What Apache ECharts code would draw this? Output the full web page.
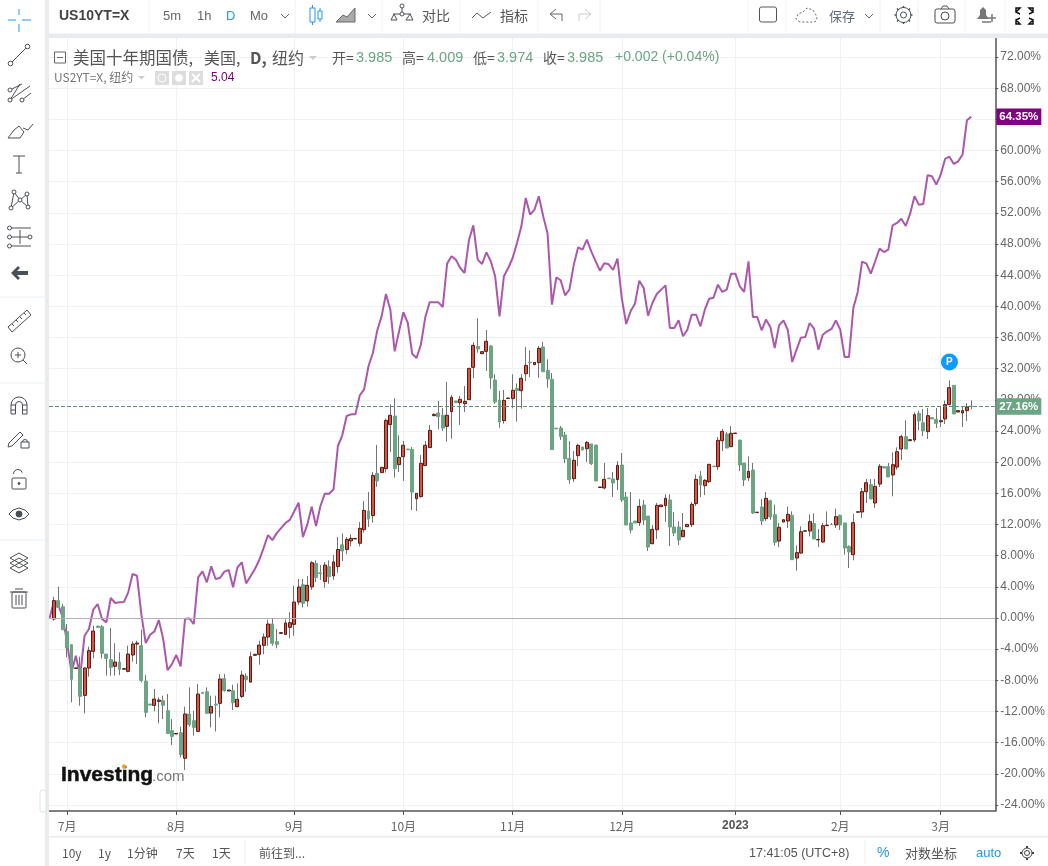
<!DOCTYPE html>
<html>
<head>
<meta charset="utf-8">
<title>US10YT=X</title>
<style>
html,body{margin:0;padding:0;background:#fff;}
#main{width:1048px;height:866px;}
</style>
<script src="https://cdn.jsdelivr.net/npm/echarts@6/dist/echarts.min.js"></script>
</head>
<body>
<div id="main"></div>
<script>
// 美国十年期国债 K线, 涨跌幅 %, 每根一个交易日
var openVals = [
  -0.13,2.23,1.45,-1.75,-3.42,-6.48,-6.42,-9.93,-6.42,-4.28,
  -1.03,-1.11,-4.62,-5.35,-6.20,-5.65,-6.57,-6.85,-4.75,-3.34,
  -3.55,-8.09,-11.04,-11.21,-10.70,-10.61,-11.90,-14.46,-14.89,-14.72,
  -18.01,-12.32,-13.18,-14.55,-9.54,-9.46,-12.20,-11.04,-10.95,-7.79,
  -9.37,-9.33,-11.38,-10.06,-7.45,-8.22,-4.79,-4.66,-3.51,-2.44,
  -0.77,-3.04,-1.97,-2.10,-1.20,-0.81,2.05,4.28,2.2,4.0,
  7.0,5.8,4.7,6.6,5.4,6.6,9.4,8.8,9.9,10.15,
  9.6,11.34,13.74,13.14,18.57,18.66,19.17,24.82,25.93,19.68,
  20.71,21.69,21.65,15.32,15.58,19.56,21.87,25.97,26.32,26.02,
  24.60,26.49,27.86,27.64,27.51,28.03,32.18,34.87,33.93,34.23,
  34.92,30.55,27.98,25.33,28.18,28.16,29.48,29.18,31.36,32.84,
  32.52,32.78,34.79,31.79,30.64,24.37,24.39,23.49,20.50,17.89,
  20.84,21.95,21.74,22.34,22.21,16.75,16.69,17.95,17.84,17.76,
  19.64,15.53,12.20,12.45,12.24,14.51,13.09,9.54,11.34,14.29,
  14.42,15.15,11.68,11.68,10.44,11.72,11.98,14.68,18.23,16.99,
  17.50,19.50,19.43,22.76,23.62,21.99,23.68,22.85,19.90,18.01,
  19.00,13.53,14.25,12.75,15.06,13.26,9.88,12.32,12.45,13.18,
  7.70,8.34,11.14,11.17,12.15,10.03,9.76,11.85,12.02,11.94,
  13.18,12.20,9.20,8.13,13.58,13.61,16.22,17.12,14.76,17.20,
  19.43,19.43,18.36,19.38,21.69,23.28,22.76,22.85,26.27,25.07,
  23.92,25.72,25.50,25.20,25.55,27.39,29.87,26.44,26.32,26.62,27.20
];
var closeVals = [
  2.23,1.37,-1.50,-3.85,-7.87,-6.40,-10.06,-6.42,-4.19,-1.67,
  -1.20,-4.54,-5.18,-6.33,-5.65,-6.59,-6.50,-4.62,-3.34,-3.21,
  -8.04,-12.11,-11.17,-10.40,-10.53,-11.21,-14.81,-15.19,-14.81,-17.54,
  -12.32,-13.69,-14.04,-9.76,-9.67,-12.24,-11.34,-11.17,-7.83,-9.33,
  -9.24,-10.87,-10.44,-7.32,-7.92,-4.96,-4.66,-3.47,-2.44,-0.77,
  -3.25,-3.38,-1.88,-0.64,-0.60,2.05,3.98,1.88,4.2,7.1,
  5.2,5.7,6.8,5.3,7.2,8.8,8.6,10.10,10.23,10.22,
  11.51,13.82,12.71,18.31,17.59,19.34,25.37,26.02,19.17,20.62,
  22.17,21.60,16.17,16.00,19.85,22.17,24.09,26.14,25.85,24.39,
  26.02,28.33,27.64,28.07,27.81,32.05,35.00,34.53,34.19,35.52,
  30.81,27.73,25.16,27.94,28.24,29.23,29.18,30.77,32.43,32.75,
  32.82,34.62,31.62,30.68,21.61,24.28,23.28,20.45,17.76,20.24,
  22.16,21.57,22.55,19.81,17.59,16.82,17.80,17.88,17.33,19.60,
  15.15,11.94,11.30,12.20,14.33,12.58,9.11,11.38,14.46,14.51,
  15.36,11.68,10.91,10.01,11.25,12.02,14.59,17.80,17.07,17.67,
  19.73,19.43,22.81,23.96,21.82,23.71,23.74,19.64,17.72,18.83,
  13.48,13.59,12.45,15.36,12.97,9.71,11.64,12.62,13.31,7.49,
  8.39,11.08,11.20,12.37,10.14,10.09,11.85,11.92,11.98,13.01,
  11.94,8.99,8.47,12.24,13.64,16.22,17.37,15.28,16.90,19.47,
  19.26,18.10,19.68,21.35,23.28,21.69,22.89,26.10,25.29,24.01,
  25.97,25.55,24.99,25.33,27.39,29.57,26.19,26.62,26.62,27.09,27.16
];
var lowVals = [
  -0.34,1.37,-1.50,-5.05,-10.83,-6.48,-11.25,-12.24,-7.53,-5.18,
  -1.20,-5.18,-7.40,-7.40,-7.40,-7.32,-6.57,-6.97,-5.61,-5.91,
  -8.26,-12.75,-11.17,-11.98,-13.52,-12.97,-14.89,-16.30,-14.89,-17.89,
  -19.51,-13.95,-15.10,-14.55,-9.67,-12.32,-14.04,-14.55,-12.75,-9.46,
  -9.37,-11.81,-11.47,-10.27,-9.46,-8.26,-4.79,-5.99,-4.66,-3.55,
  -3.55,-3.89,-1.97,-2.14,-2.61,-2.27,1.67,1.37,1.5,3.6,
  4.6,4.9,3.9,4.4,4.9,5.8,7.3,8.2,9.2,10.15,
  9.2,10.95,11.68,12.24,16.82,18.66,18.66,21.31,18.01,18.74,
  17.59,21.60,13.86,13.74,15.45,19.56,21.87,25.97,24.22,24.01,
  22.64,23.02,27.64,24.78,26.44,28.03,30.81,34.06,33.93,31.71,
  29.44,27.47,24.43,24.95,28.18,26.92,25.20,26.87,30.42,30.94,
  32.52,30.85,31.62,29.57,21.61,24.28,22.85,19.90,17.24,17.46,
  19.51,21.57,20.03,19.64,17.59,16.75,16.52,17.88,15.53,16.43,
  14.89,11.94,10.87,12.20,11.81,11.94,8.60,9.46,10.14,14.29,
  12.32,9.24,10.53,9.37,10.40,11.72,11.68,14.38,15.53,15.79,
  17.33,19.43,19.00,21.44,21.82,21.99,23.68,18.87,16.94,17.59,
  13.35,13.53,11.94,12.45,12.62,9.29,9.11,12.32,11.55,7.49,
  6.08,8.26,11.14,10.48,10.14,9.11,9.67,11.85,11.98,11.55,
  11.30,8.13,6.42,7.40,13.58,12.84,14.76,15.28,14.12,16.82,
  19.26,18.10,15.62,19.04,20.28,21.69,22.76,22.59,24.09,23.36,
  22.98,25.55,24.39,24.52,24.90,27.30,26.19,26.44,24.52,25.29,26.78
];
var highVals = [
  2.74,4.02,1.80,-0.77,-3.42,-6.40,-4.96,-6.33,-3.68,-0.98,
  -1.03,-0.90,-4.62,-1.28,-3.25,-4.41,-6.50,-3.55,-3.00,-2.91,
  -1.50,-7.32,-11.04,-9.11,-10.18,-9.97,-9.76,-12.97,-14.81,-13.95,
  -11.38,-8.90,-11.90,-8.47,-9.54,-8.90,-9.97,-9.97,-7.19,-7.19,
  -9.24,-8.56,-8.39,-6.76,-7.10,-4.32,-4.66,-2.91,-1.97,-0.21,
  -0.04,-1.41,-1.88,-0.17,0.73,4.15,5.01,5.01,5.4,7.3,
  7.4,6.8,7.2,7.4,8.1,10.4,10.87,10.40,10.74,10.22,
  12.32,15.02,16.17,18.74,22.21,19.34,25.59,27.43,28.20,23.45,
  22.72,21.69,21.95,16.00,20.92,22.72,24.78,26.27,27.86,26.96,
  30.30,28.63,27.86,28.50,29.78,32.05,35.39,38.47,34.19,36.97,
  35.04,31.28,29.14,29.27,28.24,31.28,30.12,31.28,34.79,34.36,
  32.82,34.92,35.43,33.21,31.45,24.37,24.65,23.88,22.72,21.44,
  22.38,21.95,22.72,22.34,22.21,16.82,19.90,17.95,18.74,20.15,
  21.18,16.17,16.17,12.45,15.28,15.15,13.09,11.94,14.76,14.51,
  15.88,15.88,13.61,12.41,13.48,12.02,14.89,18.44,18.87,17.84,
  19.73,19.50,23.24,24.26,23.88,24.65,23.74,22.85,19.90,20.75,
  19.90,13.59,15.28,16.17,15.19,14.55,12.20,12.62,14.33,13.69,
  9.33,11.77,11.20,13.31,13.44,11.42,12.20,13.69,12.20,14.04,
  13.26,12.20,9.33,13.39,13.64,16.69,17.84,17.84,17.84,19.77,
  19.43,19.90,21.27,21.91,23.53,25.37,22.89,26.40,26.62,26.83,
  26.96,25.72,26.96,27.17,27.90,30.51,29.87,26.62,27.17,27.56,27.94
];
// US2YT=X 对比线, 第一个点在第一根K线之前
var compareVals = [
  0,2.14,1.67,0.09,-3.12,-6.97,-4.84,-7.40,-2.27,-1.41,1.07,
  1.80,-0.13,-0.56,2.57,1.93,2.01,2.05,3.29,5.65,5.43,
  0.51,-3.21,-2.14,-1.71,-0.26,-2.70,-6.68,-5.91,-4.75,-6.20,
  -0.13,-0.04,-0.77,5.22,5.99,4.58,6.63,5.01,5.13,5.95,
  6.16,3.94,6.50,7.15,4.45,5.35,6.29,7.45,9.0,10.65,
  10.0,10.9,11.55,12.2,12.6,13.7,14.8,10.40,12.02,14.29,
  11.81,14.38,15.96,15.96,16.52,22.08,23.45,25.93,26.14,26.14,
  28.58,29.35,32.31,34.02,36.89,38.72,41.59,39.58,34.23,36.80,
  39.24,37.87,33.93,33.38,35.09,38.60,40.52,40.52,40.52,39.92,
  45.49,46.43,46.00,44.93,44.29,48.48,50.41,46.00,45.44,46.94,
  45.79,43.86,38.72,43.86,44.93,46.21,48.14,50.28,53.92,51.78,
  52.42,54.13,51.56,49.34,40.22,43.73,43.35,41.42,42.15,45.36,
  47.58,47.28,48.57,47.07,45.79,44.59,45.53,45.40,44.67,46.13,
  40.99,37.74,39.37,40.35,43.30,42.36,38.81,40.44,41.59,42.15,
  42.70,37.23,37.23,38.21,36.16,37.01,38.94,38.94,37.44,39.58,
  40.99,41.12,42.79,41.85,42.15,44.20,44.20,42.58,41.85,45.79,
  38.64,38.64,36.93,38.30,37.36,34.66,37.57,38.21,36.97,32.86,
  34.45,35.99,36.07,37.87,37.14,34.45,36.37,36.80,37.10,38.21,
  37.01,33.50,33.50,39.79,41.85,45.74,45.49,44.20,45.79,47.41,
  46.98,47.28,50.41,50.71,51.26,50.32,51.90,54.13,53.06,53.14,
  56.83,56.70,55.63,56.91,58.92,59.22,58.28,58.62,59.48,63.88,64.35
];
var monthTicks = [3,28,55,80,105,130,156,180,203];
var monthLabels = ['7月','8月','9月','10月','11月','12月','2023','2月','3月'];
var yTicks = [-24,-20,-16,-12,-8,-4,0,4,8,12,16,20,24,28,32,36,40,44,48,52,56,60,64,68,72];
var lastClose = 27.16;
var lastCompare = 64.35;
var pMarkIndex = 205, pMarkValue = 32.86;

var latin = '"Liberation Sans","Noto Sans CJK SC",sans-serif';
var cjk = '"Noto Sans CJK SC","Liberation Sans",sans-serif';
var ink = '#4a4f57', gray = '#555', blue = '#2196f3', upGreen = '#6ba583';

function txt(x, y, s, o) {
	o = o || {};
	return {type:'text', x:x, y:y, silent:true, z:20, style:{
		text:s, fill:o.c || gray, fontSize:o.s || 13, fontWeight:o.w || 'normal',
		fontFamily:o.f || latin, align:o.a || 'left', verticalAlign:'middle',
		stroke:o.stroke || 'none', lineWidth:o.stroke ? 0.5 : 0}};
}
function ln(pts, c, w) {
	return {type:'polyline', silent:true, z:20, shape:{points:pts}, style:{stroke:c || ink, fill:'none', lineWidth:w || 1}};
}
function circ(x, y, r, c, fill) {
	return {type:'circle', silent:true, z:20, shape:{cx:x, cy:y, r:r}, style:{stroke:c || ink, fill:fill || '#fff', lineWidth:1}};
}
function box(x, y, w, h, fill, stroke, r, z) {
	return {type:'rect', silent:true, z:z || 20, shape:{x:x, y:y, width:w, height:h, r:r || 0}, style:{fill:fill || 'none', stroke:stroke || 'none', lineWidth:1}};
}

function chromeItems() {
	var g = [];
	// 灰色分隔带
	g.push(box(45, 0, 4, 866, '#e9ecef', null, 0, 5));
	g.push(box(45, 33.5, 1003, 4.5, '#e9ecef', null, 0, 5));
	g.push(box(49, 836, 999, 1.5, '#e9ecef', null, 0, 5));
	[149,295,382,460,538,600,748,786,880,918,965,1005].forEach(function(x){
		g.push(ln([[x,0],[x,33]], '#f1f2f4'));
	});
	[297,383,540].forEach(function(y){ g.push(ln([[0,y],[45,y]], '#eceef0')); });

	// 顶部工具条
	g.push(txt(59, 16, 'US10YT=X', {w:'bold', s:14, c:'#444'}));
	g.push(txt(163, 16, '5m', {s:13, c:'#666'}));
	g.push(txt(197, 16, '1h', {s:13, c:'#666'}));
	g.push(txt(226, 16, 'D', {s:13, c:blue}));
	g.push(txt(250, 16, 'Mo', {s:13, c:'#666'}));
	[285,372,869].forEach(function(x){ g.push(ln([[x-4,14],[x,18],[x+4,14]], '#666')); });
	g.push(box(310, 8, 5, 14, null, blue)); g.push(ln([[312.5,5],[312.5,8]], blue)); g.push(ln([[312.5,22],[312.5,25]], blue));
	g.push(box(318, 11, 4, 8, null, blue)); g.push(ln([[320,8],[320,11]], blue)); g.push(ln([[320,19],[320,22]], blue));
	g.push({type:'polygon', silent:true, z:20, shape:{points:[[336,22],[343,15],[347,17],[355,8],[355,22]]}, style:{fill:'#aaa', stroke:'#666', lineWidth:1}});
	g.push(ln([[402,7],[402,14]])); g.push(ln([[393,14],[411,14]])); g.push(circ(402,6,2)); g.push(circ(402,14,2));
	g.push(ln([[391,20],[394,14],[397,20],[391,20]])); g.push(ln([[406,20],[410,14],[413,20],[406,20]]));
	g.push(txt(422, 16, '对比', {f:cjk, s:14, c:'#555'}));
	g.push(ln([[472,18],[477,13],[483,18],[491,12]], '#555'));
	g.push(txt(500, 16, '指标', {f:cjk, s:14, c:'#555'}));
	g.push(ln([[550,14],[556,9]], '#666')); g.push(ln([[550,14],[556,19]], '#666')); g.push(ln([[550,14],[562,14],[562,21]], '#666'));
	g.push(ln([[591,14],[585,9]], '#ccc')); g.push(ln([[591,14],[585,19]], '#ccc')); g.push(ln([[591,14],[579,14],[579,21]], '#ccc'));
	g.push(box(759.5, 7, 17, 15, null, '#555', 2));
	g.push({type:'polyline', silent:true, z:20, shape:{points:[[800,22],[796,19],[798,14],[803,12],[807,8],[813,10],[816,15],[817,19],[815,22],[800,22]]}, style:{stroke:'#666', fill:'none', lineDash:[2,2], lineWidth:1}});
	g.push(txt(829, 16, '保存', {f:cjk, s:13, c:'#5a6a7a'}));
	// 设置 / 相机 / 提醒 / 全屏
	g.push(circ(903.5,15,3)); g.push(circ(903.5,15,7.5,ink,'none'));
	[[903.5,6,903.5,8],[903.5,22,903.5,24],[894.5,15,896.5,15],[910.5,15,912.5,15],[897,8.5,898.5,10],[908.5,20,910,21.5],[910,8.5,908.5,10],[898.5,20,897,21.5]].forEach(function(a){
		g.push(ln([[a[0],a[1]],[a[2],a[3]]], ink, 1.5));
	});
	g.push(box(935, 9, 20, 14, null, ink, 2)); g.push(circ(945,16,4));
	g.push(ln([[941,9],[943,6],[947,6],[949,9]]));
	g.push({type:'polygon', silent:true, z:20, shape:{points:[[977,19],[980,15],[980,10],[983,7],[986,10],[986,15],[989,19]]}, style:{fill:'#777'}});
	g.push(ln([[982,22],[991,22]], '#777', 1.5)); g.push(ln([[992,14],[992,22]], '#777', 1.5)); g.push(ln([[988,18],[996,18]], '#777', 1.5));
	[[1016,8,1],[1033,8,-1]].forEach(function(a){
		g.push(ln([[a[0],a[1]+4],[a[0],a[1]],[a[0]+4*a[2],a[1]],[a[0],a[1]+4],[a[0]+4*a[2],a[1]+6]], '#111', 1.5));
		g.push(ln([[a[0],20],[a[0],24],[a[0]+4*a[2],24],[a[0],20],[a[0]+4*a[2],18]], '#111', 1.5));
	});

	// 左侧工具栏
	g.push(ln([[8,20],[16,20]], blue)); g.push(ln([[22,20],[31,20]], blue));
	g.push(ln([[19,9],[19,15]], blue)); g.push(ln([[19,24],[19,32]], blue));
	g.push(ln([[12,62],[26,48]])); g.push(circ(10.5,63.5,2.3)); g.push(circ(27.5,46.5,2.3));
	g.push(ln([[12,89],[22,84]])); g.push(ln([[10,100],[20,84]])); g.push(ln([[10,100],[30,86]])); g.push(ln([[22,100],[31,93]]));
	g.push(circ(10,90,2)); g.push(circ(10,100,2)); g.push(circ(22,100,2));
	g.push(ln([[8,138],[14,130],[19,126],[24,132],[20,138],[8,138]])); g.push(ln([[23,128],[28,130],[33,124]]));
	g.push(ln([[13,156],[25,156]])); g.push(ln([[19,156],[19,173]])); g.push(ln([[16,173],[22,173]]));
	g.push(ln([[11,208],[14,192],[20,200],[27,194],[28,207],[20,200],[11,208]]));
	[[14,192],[11,208],[20,200],[27,194],[28,207]].forEach(function(p){ g.push(circ(p[0],p[1],2)); });
	[228,237,246].forEach(function(y){ g.push(ln([[11,y],[31,y]])); g.push(circ(9.5,y,2)); });
	g.push(circ(30,237,2)); g.push(ln([[20,230],[20,244]]));
	g.push({type:'polygon', silent:true, z:20, shape:{points:[[11,273],[18,266],[20,268],[17,271],[28,271],[28,275],[17,275],[20,278],[18,280]]}, style:{fill:ink}});
	g.push({type:'polygon', silent:true, z:20, shape:{points:[[8,327],[27,310],[31,315],[12,332]]}, style:{fill:'none', stroke:ink, lineWidth:1}});
	[[12,324],[16,320],[20,317],[24,313]].forEach(function(p){ g.push(ln([[p[0],p[1]],[p[0]+2,p[1]+2]])); });
	g.push(circ(18,355,7)); g.push(ln([[15,355],[21,355]])); g.push(ln([[18,352],[18,358]])); g.push(ln([[23,360],[27,364]]));
	g.push({type:'arc', silent:true, z:20, shape:{cx:19, cy:405, r:8, startAngle:Math.PI, endAngle:0}, style:{stroke:ink, fill:'none'}});
	g.push({type:'arc', silent:true, z:20, shape:{cx:19, cy:405, r:3.5, startAngle:Math.PI, endAngle:0}, style:{stroke:ink, fill:'none'}});
	g.push(box(11, 405, 4.5, 9, null, ink)); g.push(box(22.5, 405, 4.5, 9, null, ink)); g.push(ln([[11,410],[15.5,410]])); g.push(ln([[22.5,410],[27,410]]));
	g.push({type:'polygon', silent:true, z:20, shape:{points:[[9,443],[20,432],[23,435],[12,446],[8,447]]}, style:{fill:'none', stroke:ink}});
	g.push(box(21, 442, 8, 6, null, ink));
	g.push({type:'arc', silent:true, z:20, shape:{cx:25, cy:442, r:2.5, startAngle:Math.PI, endAngle:0}, style:{stroke:ink, fill:'none'}});
	g.push(box(12, 478, 14, 11, null, ink, 1));
	g.push({type:'arc', silent:true, z:20, shape:{cx:18, cy:474, r:4.5, startAngle:Math.PI, endAngle:-0.3}, style:{stroke:ink, fill:'none'}});
	g.push(circ(19,483.5,1,ink,ink));
	g.push(ln([[9,514],[13,510],[19,508],[25,510],[29,514],[25,518],[19,520],[13,518],[9,514]]));
	g.push(circ(19,514,3,ink,ink));
	[558,563,568].forEach(function(y){
		g.push(ln([[10,y],[19,y-5],[28,y],[19,y+5],[10,y]]));
	});
	g.push(box(12, 592, 14, 16, null, ink, 1)); g.push(ln([[10,592],[28,592]])); g.push(ln([[15,589],[23,589]]));
	[16,19,22].forEach(function(x){ g.push(ln([[x,595],[x,605]])); });
	g.push(box(40, 790, 6, 22, '#fff', '#dfe2e5', 2, 21)); g.push(ln([[44,798],[42,801],[44,804]], '#999'));

	// 图例
	g.push(box(54.5, 52, 11, 11, null, '#666'));
	g.push(ln([[57,57.5],[63,57.5]], '#666'));
	g.push(txt(73, 57.5, '美国十年期国债,', {f:cjk, s:16.5, c:'#555'}));
	g.push(txt(204, 57.5, '美国,', {f:cjk, s:16, c:'#555'}));
	g.push(txt(250, 57.5, 'D,', {f:cjk, s:16, c:'#555', w:'bold'}));
	g.push(txt(272, 57.5, '纽约', {f:cjk, s:16, c:'#555'}));
	g.push({type:'polygon', silent:true, z:20, shape:{points:[[309,56],[317,56],[313,60]]}, style:{fill:'#ccc'}});
	[[332,'开=',356,'3.985'],[402,'高=',427,'4.009'],[473,'低=',497,'3.974'],[543,'收=',567,'3.985']].forEach(function(a){
		g.push(txt(a[0], 57.5, a[1], {f:cjk, s:14, c:'#555'}));
		g.push(txt(a[2], 57.5, a[3], {s:14.5, c:upGreen}));
	});
	g.push(txt(615, 57.5, '+0.002 (+0.04%)', {s:14, c:upGreen}));
	g.push(txt(54, 77.5, 'US2YT=X, 纽约', {f:cjk, s:12, c:'#777'}));
	g.push({type:'polygon', silent:true, z:20, shape:{points:[[138,76],[145,76],[141.5,79.5]]}, style:{fill:'#ccc'}});
	[155,172,189].forEach(function(x){ g.push(box(x, 71, 14, 14, '#ddd')); });
	g.push(circ(162,78,4,'#fff','#ddd')); g.push(circ(179,78,3.5,'#fff','#fff'));
	g.push(ln([[192,74],[200,82]], '#fff', 2)); g.push(ln([[200,74],[192,82]], '#fff', 2));
	g.push(txt(211, 78, '5.04', {s:12, c:'#800080'}));

	// 水印
	g.push(txt(61, 775, 'Investing', {s:21, w:'bold', c:'#111', stroke:'#111'}));
	g.push(txt(152, 777, '.com', {s:15, c:'#777'}));
	g.push(circ(124,766.5,1.7,'#f7a21b','#f7a21b'));

	// 底部工具条
	[[62,'10y'],[98,'1y'],[127,'1分钟'],[176,'7天'],[212,'1天'],[259,'前往到...']].forEach(function(a){
		g.push(txt(a[0], 853.5, a[1], {f:cjk, s:12, c:'#555'}));
	});
	g.push(ln([[245,840],[245,864]], '#eceef0')); g.push(ln([[865,840],[865,864]], '#eceef0'));
	g.push(txt(749, 853.5, '17:41:05 (UTC+8)', {s:12.5, c:'#555'}));
	g.push(txt(877, 853.5, '%', {s:14, c:blue}));
	g.push(txt(905, 853.5, '对数坐标', {f:cjk, s:13, c:'#555'}));
	g.push(txt(976, 853.5, 'auto', {s:13, c:blue}));
	g.push(circ(1027,853,5,'#444','none')); g.push(circ(1027,853,2.5,'#444','#fff'));
	[[1027,846,1027,848],[1027,858,1027,860],[1020,853,1022,853],[1032,853,1034,853]].forEach(function(a){
		g.push(ln([[a[0],a[1]],[a[2],a[3]]], '#444', 2));
	});
	return g;
}

var wickData = openVals.map(function(o, i){ return [i, o, closeVals[i], lowVals[i], highVals[i]]; });
var bodyData = openVals.map(function(o, i){ return [i, o, closeVals[i], Math.min(o, closeVals[i]), Math.max(o, closeVals[i])]; });
var lineData = compareVals.map(function(v, i){ return [i - 1, v]; });

function priceTag(value, color, lineStyle) {
	return {
		silent:true, symbol:['none','none'], animation:false,
		lineStyle:lineStyle,
		label:{show:true, position:'end', distance:1, formatter:value.toFixed(2) + '%', color:'#fff',
			fontWeight:'bold', fontSize:11.5, fontFamily:latin, backgroundColor:color, padding:[3,3,2,3]},
		data:[{yAxis:value}]
	};
}

var myChart = echarts.init(document.getElementById('main'), null, {renderer:'canvas'});
var option = {
	animation:false,
	backgroundColor:'#fff',
	textStyle:{fontFamily:latin},
	grid:{left:49, right:51, top:38, bottom:55, containLabel:false},
	xAxis:{
		type:'value', min:-1.14, max:215.5,
		axisLine:{onZero:false, lineStyle:{color:'#555', width:1.5}},
		axisTick:{customValues:monthTicks, length:4, lineStyle:{color:'#555'}},
		axisLabel:{
			customValues:monthTicks, color:'#666', fontSize:12, margin:9, fontFamily:cjk,
			formatter:function(v){
				var s = monthLabels[monthTicks.indexOf(v)];
				return s == '2023' ? '{b|' + s + '}' : s;
			},
			rich:{b:{fontWeight:'bold', color:'#555', fontSize:12, fontFamily:latin}}
		},
		splitLine:{show:true, lineStyle:{color:'#f0f1f3'}}
	},
	yAxis:{
		type:'value', position:'right', min:-24.77, max:74.45, scale:true,
		axisLine:{show:true, onZero:false, lineStyle:{color:'#555', width:1.5}},
		axisTick:{show:true, customValues:yTicks, length:3, lineStyle:{color:'#555'}},
		axisLabel:{customValues:yTicks, color:'#666', fontSize:12, margin:5, fontFamily:latin,
			formatter:function(v){ return v.toFixed(2) + '%'; }},
		splitLine:{show:true, lineStyle:{color:'#f0f1f3'}}
	},
	graphic:{elements:chromeItems()},
	series:[
		{
			name:'US2YT=X', type:'line', data:lineData, z:2, symbol:'none', smooth:false,
			lineStyle:{color:'#800080', opacity:0.66, width:2},
			markLine:priceTag(lastCompare, '#800080', {color:'rgba(128,0,128,0)', width:0})
		},
		{
			name:'wick', type:'candlestick', data:wickData, z:3, barWidth:1,
			itemStyle:{color:'#737375', color0:'#737375', borderColor:'#737375', borderColor0:'#737375', borderWidth:1},
			markLine:{silent:true, symbol:['none','none'], label:{show:false}, lineStyle:{type:'solid', color:'#b5aeb8', width:1}, data:[{yAxis:0}]}
		},
		{
			name:'US10YT=X', type:'candlestick', data:bodyData, z:4, barWidth:3.4,
			itemStyle:{color:'#d75442', color0:upGreen, borderColor:'#5b1a13', borderColor0:upGreen, borderWidth:1},
			markLine:priceTag(lastClose, upGreen, {type:'dashed', color:'#5d8f74', width:1}),
			markPoint:{
				silent:true,
				data:[{coord:[pMarkIndex, pMarkValue], symbol:'circle', symbolSize:17, itemStyle:{color:'#0d9bfd'},
					label:{show:true, position:'inside', formatter:'P', color:'#fff', fontWeight:'bold', fontSize:10, fontFamily:latin}}]
			}
		}
	]
};
myChart.setOption(option);
</script>
</body>
</html>
